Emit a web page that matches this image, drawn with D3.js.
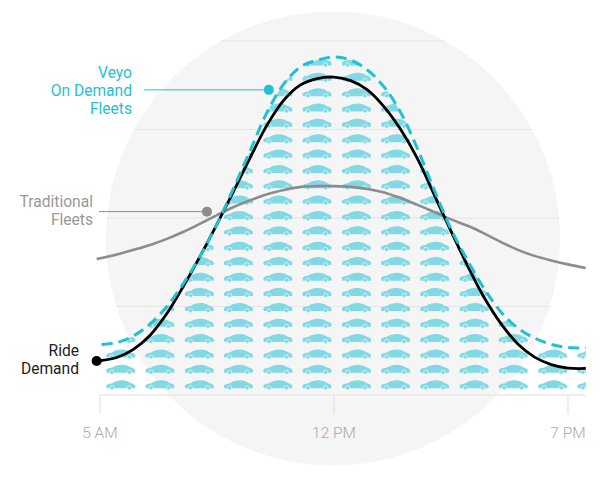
<!DOCTYPE html>
<html>
<head>
<meta charset="utf-8">
<script src="https://d3js.org/d3.v7.min.js"></script>
<style>
html,body{margin:0;padding:0;background:#fff}
svg{display:block}
text{font-family:Roboto,"Open Sans",sans-serif}
</style>
</head>
<body>
<svg id="chart" width="606" height="481"></svg>
<script>
const hours = [5,5.5,6,6.5,7,7.5,8,8.5,9,9.5,10,10.5,11,11.5,12,12.5,13,13.5,14,14.5,15,15.5,16,16.5,17,17.5,18,18.5,19,19.53];
const rideDemand = [9.7,10.6,12.9,16.9,23.0,30.8,39.3,48.3,57.6,67.2,76.3,83.3,87.6,89.4,89.8,88.8,86.2,81.4,74.9,66.7,56.5,46.3,36.4,27.4,20.1,14.4,10.7,8.6,7.6,7.5];
const rideStart = {h:4.9, v:9.6};
const veyoStartHour = 5.05;
const veyoFleets = [14.3,14.8,16.7,20.1,25.0,31.6,39.3,48.3,58.5,69.2,79.9,87.9,92.7,94.6,95.5,94.6,91.8,87.0,79.7,69.5,57.9,46.9,37.9,29.9,23.4,18.9,16.1,14.3,13.4,13.3];
const tradStartHour = 4.9;
const traditionalFleets = [38.4,39.7,41.0,42.4,44.1,46.1,48.4,50.8,53.1,55.0,56.7,57.9,58.8,59.0,59.0,58.8,58.2,57.2,55.6,53.7,51.7,49.6,47.8,45.6,43.2,41.0,39.3,38.0,36.9,35.9];
const gridValues = [25,50,75,100];
const tickHours = [5,12,19];
const tickLabels = ["5 AM","12 PM","7 PM"];
const carColumns = [5.62,6.79,7.97,9.14,10.32,11.49,12.67,13.84,15.01,16.19,17.36,18.54,19.71];
const carRows = [2.8,7.2,11.5,15.9,20.2,24.6,28.9,33.2,37.6,41.9,46.3,50.6,55,59.3,63.6,68,72.3,76.7,81,85.3,89.7,94];
const veyoDot = {h:10.05, v:86.2, from:6.32};
const tradDot = {h:8.2, v:51.8, from:4.97};

const VEYO="#1fc1d3", GREY="#8c8c8c";
const x = d3.scaleLinear().domain([5,19]).range([100,568]);
const y = d3.scaleLinear().domain([0,100]).range([395,41]);
const xEnd = 585.7;
const svg = d3.select("#chart");
const defs = svg.append("defs");

const cx=333, cy=238.5, R=227;
defs.append("clipPath").attr("id","disc").append("circle").attr("cx",cx).attr("cy",cy).attr("r",R);
const veyoPts = hours.map((h,i)=>[i==0?veyoStartHour:h,veyoFleets[i]]);
const tradPts = hours.map((h,i)=>[i==0?tradStartHour:h,traditionalFleets[i]]);
const ridePts = [[rideStart.h,rideStart.v]].concat(hours.map((h,i)=>[h,rideDemand[i]]));
const curve = d3.curveCatmullRom.alpha(0.5);
const line = d3.line().x(d=>x(d[0])).y(d=>y(d[1])).curve(curve);
const veyoArea = d3.area().x(d=>x(d[0])).y0(y(0)).y1(d=>y(d[1])).curve(curve);
defs.append("clipPath").attr("id","under").append("path").attr("d",veyoArea(veyoPts));

svg.append("circle").attr("cx",cx).attr("cy",cy).attr("r",R).attr("fill","#f5f5f5");

svg.append("g").attr("clip-path","url(#disc)").selectAll("line").data(gridValues).join("line")
  .attr("x1",100).attr("x2",570).attr("y1",d=>y(d)).attr("y2",d=>y(d))
  .attr("stroke","#e4e4e4").attr("stroke-width",1);

// baseline and ticks
svg.append("line").attr("x1",x(5)).attr("x2",xEnd).attr("y1",y(0)).attr("y2",y(0)).attr("stroke","#e9e9e9").attr("stroke-width",1.5);
const tk = svg.append("g").selectAll("g").data(tickHours).join("g");
tk.append("line").attr("x1",d=>x(d)).attr("x2",d=>x(d)).attr("y1",y(0)).attr("y2",414).attr("stroke","#dcdcdc");
tk.append("text").attr("x",d=>x(d)).attr("y",438).attr("text-anchor","middle").attr("font-size",15.5).attr("font-weight",300).attr("fill","#aaa").text((d,i)=>tickLabels[i]);

// cars
const carPath = "M-14.6,1C-14.6,-.5-12,-1.4-8.5,-1.9C-5.5,-4.2-1.5,-5,2.5,-4.8C6,-4.6,8.5,-3,10.5,-1.9C13,-1.4,14.6,-.5,14.6,1.5L14.3,3.2L-14,3.2Z";
const carLayer = svg.append("g").attr("clip-path","url(#under)");
const carCells = carColumns.flatMap(c=>carRows.map(r=>[c,r]));
const car = carLayer.selectAll("g").data(carCells).join("g")
  .attr("transform",d=>`translate(${x(d[0])},${y(d[1])})`).attr("fill","#82d9e4");
car.append("path").attr("d",carPath);
car.selectAll("circle").data([-8.8,8.6]).join("circle").attr("cx",d=>d).attr("cy",2.7).attr("r",2.1)
  .attr("stroke","#e4f6f8").attr("stroke-width",.7);

// lines
svg.append("path").attr("d",line(tradPts))
  .attr("fill","none").attr("stroke",GREY).attr("stroke-width",2.6);
svg.append("path").attr("d",line(ridePts))
  .attr("fill","none").attr("stroke","#000").attr("stroke-width",2.8);
svg.append("path").attr("d",line(veyoPts))
  .attr("fill","none").attr("stroke",VEYO).attr("stroke-width",3).attr("stroke-dasharray","11,6");

// annotations
svg.append("line").attr("x1",x(veyoDot.from)).attr("x2",x(veyoDot.h)).attr("y1",y(veyoDot.v)).attr("y2",y(veyoDot.v)).attr("stroke",VEYO).attr("stroke-width",1);
svg.append("circle").attr("cx",x(veyoDot.h)).attr("cy",y(veyoDot.v)).attr("r",5).attr("fill",VEYO);
svg.append("line").attr("x1",x(tradDot.from)).attr("x2",x(tradDot.h)).attr("y1",y(tradDot.v)).attr("y2",y(tradDot.v)).attr("stroke",GREY).attr("stroke-width",1);
svg.append("circle").attr("cx",x(tradDot.h)).attr("cy",y(tradDot.v)).attr("r",5).attr("fill",GREY);
svg.append("circle").attr("cx",x(rideStart.h)).attr("cy",y(rideStart.v)).attr("r",5).attr("fill","#000");

function label(lines,xr,y0,col){
  svg.append("g").selectAll("text").data(lines).join("text")
    .attr("x",xr).attr("y",(d,i)=>y0+i*18).attr("text-anchor","end").attr("font-size",15.6).attr("fill",col).text(d=>d);
}
label(["Veyo","On Demand","Fleets"],132,78,VEYO);
label(["Traditional","Fleets"],93,206.5,"#999");
label(["Ride","Demand"],79,355.5,"#222");
</script>
</body>
</html>
